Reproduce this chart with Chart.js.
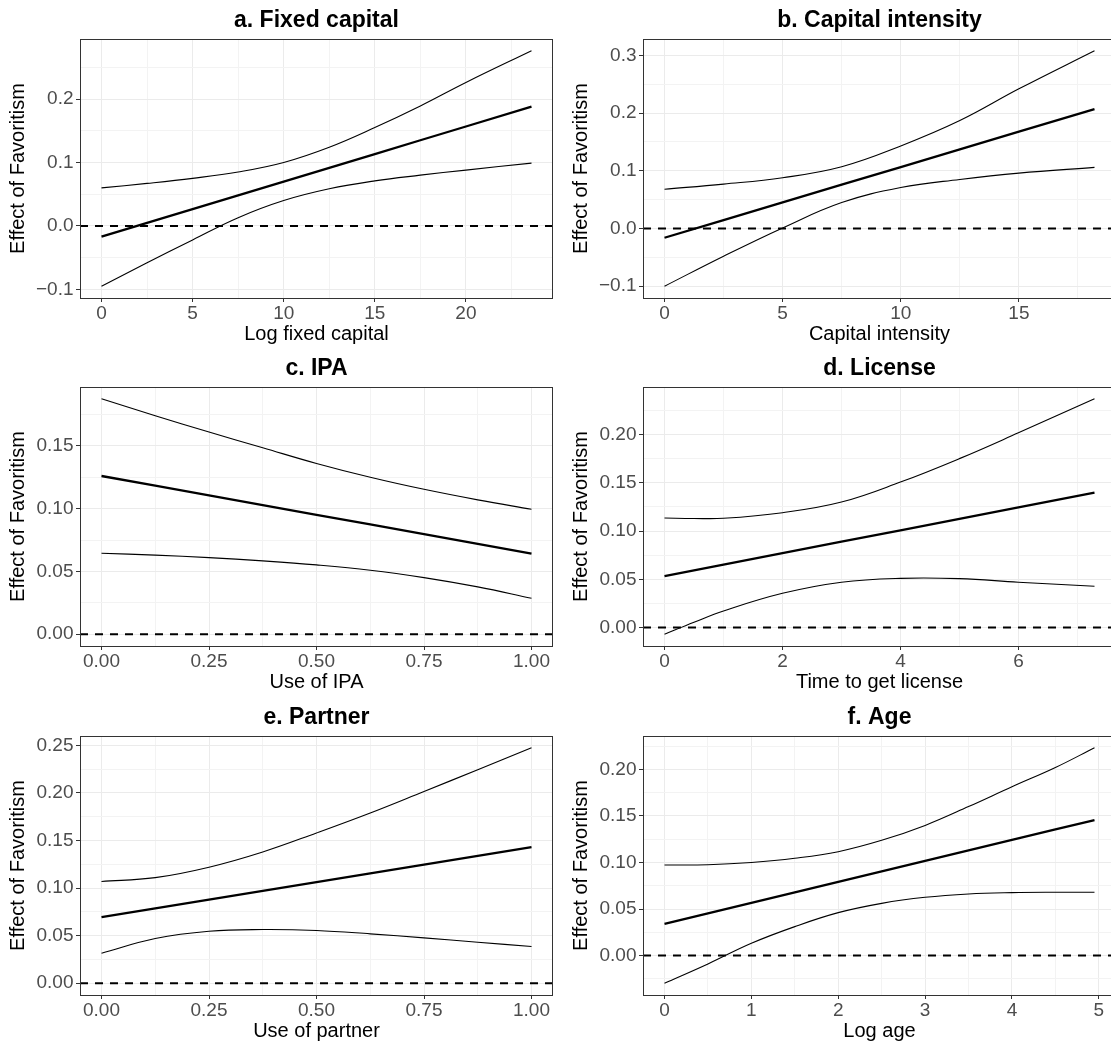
<!DOCTYPE html>
<html>
<head>
<meta charset="utf-8">
<title>Effect of Favoritism</title>
<script src="https://cdn.jsdelivr.net/npm/chart.js@4.4.1/dist/chart.umd.min.js"></script>
<style>
  html, body { margin: 0; padding: 0; background: #ffffff; }
  #fig { position: relative; width: 1111px; height: 1045px; overflow: hidden; background: #ffffff; }
  #fig canvas { position: absolute; }
</style>
</head>
<body>
<div id="fig"></div>
<script>
// ---------------- data: marginal effect of favoritism with 95% band ----------------

// a. Fixed capital
const xFixed   = [0, 2.5, 5, 7.5, 10, 12.5, 15, 17.5, 20, 23.6];
const estFixed = [-0.017, 0.0047, 0.0264, 0.0481, 0.0699, 0.0916, 0.1133, 0.135, 0.1567, 0.188];
const hiFixed  = [0.060, 0.067, 0.075, 0.085, 0.100, 0.124, 0.155, 0.189, 0.226, 0.276];
const loFixed  = [-0.095, -0.058, -0.022, 0.013, 0.040, 0.0585, 0.071, 0.080, 0.088, 0.099];
const xTicksFixed  = [0, 5, 10, 15, 20];
const xLabelsFixed = ['0', '5', '10', '15', '20'];
const yTicksFixed  = [-0.1, 0, 0.1, 0.2];
const yLabelsFixed = ['\u22120.1', '0.0', '0.1', '0.2'];

// b. Capital intensity
const xIntensity   = [0, 2.5, 5, 7.5, 10, 12.5, 15, 18.2];
const estIntensity = [-0.016, 0.0146, 0.0453, 0.0759, 0.1065, 0.1372, 0.1678, 0.207];
const hiIntensity  = [0.068, 0.077, 0.088, 0.107, 0.143, 0.187, 0.242, 0.308];
const loIntensity  = [-0.100, -0.048, 0.001, 0.045, 0.071, 0.085, 0.096, 0.106];
const xTicksIntensity  = [0, 5, 10, 15];
const xLabelsIntensity = ['0', '5', '10', '15'];
const yTicksIntensity  = [-0.1, 0, 0.1, 0.2, 0.3];
const yLabelsIntensity = ['\u22120.1', '0.0', '0.1', '0.2', '0.3'];

// c. IPA
const xIpa   = [0, 0.125, 0.25, 0.375, 0.5, 0.625, 0.75, 0.875, 1];
const estIpa = [0.126, 0.1183, 0.1106, 0.1028, 0.0951, 0.0874, 0.0797, 0.0719, 0.0642];
const hiIpa  = [0.1875, 0.174, 0.161, 0.1485, 0.136, 0.125, 0.1154, 0.107, 0.0995];
const loIpa  = [0.0645, 0.063, 0.061, 0.0584, 0.0552, 0.051, 0.0451, 0.0377, 0.0287];
const xTicksIpa  = [0, 0.25, 0.5, 0.75, 1];
const xLabelsIpa = ['0.00', '0.25', '0.50', '0.75', '1.00'];
const yTicksIpa  = [0, 0.05, 0.1, 0.15];
const yLabelsIpa = ['0.00', '0.05', '0.10', '0.15'];

// d. License
const xLicense   = [0, 0.5, 1, 2, 3, 4, 5, 6, 7.29];
const estLicense = [0.0534, 0.0593, 0.0652, 0.0771, 0.0889, 0.1008, 0.1126, 0.1244, 0.1397];
const hiLicense  = [0.1135, 0.113, 0.1132, 0.119, 0.130, 0.1507, 0.175, 0.2017, 0.237];
const loLicense  = [-0.0069, 0.0055, 0.0172, 0.0355, 0.047, 0.051, 0.0507, 0.047, 0.0428];
const xTicksLicense  = [0, 2, 4, 6];
const xLabelsLicense = ['0', '2', '4', '6'];
const yTicksLicense  = [0, 0.05, 0.1, 0.15, 0.2];
const yLabelsLicense = ['0.00', '0.05', '0.10', '0.15', '0.20'];

// e. Partner
const xPartner   = [0, 0.125, 0.25, 0.375, 0.5, 0.625, 0.75, 0.875, 1];
const estPartner = [0.0694, 0.0786, 0.0878, 0.097, 0.1062, 0.1154, 0.1246, 0.1338, 0.143];
const hiPartner  = [0.107, 0.111, 0.122, 0.138, 0.158, 0.179, 0.2016, 0.2244, 0.2475];
const loPartner  = [0.0316, 0.047, 0.0547, 0.0564, 0.0554, 0.0519, 0.0477, 0.0431, 0.0386];
const xTicksPartner  = [0, 0.25, 0.5, 0.75, 1];
const xLabelsPartner = ['0.00', '0.25', '0.50', '0.75', '1.00'];
const yTicksPartner  = [0, 0.05, 0.1, 0.15, 0.2, 0.25];
const yLabelsPartner = ['0.00', '0.05', '0.10', '0.15', '0.20', '0.25'];

// f. Age
const xAge   = [0, 0.5, 1, 1.5, 2, 2.5, 3, 3.5, 4, 4.5, 4.95];
const estAge = [0.034, 0.0453, 0.0566, 0.0678, 0.0791, 0.0904, 0.1017, 0.1129, 0.1242, 0.1355, 0.1456];
const hiAge  = [0.0973, 0.0976, 0.100, 0.1045, 0.1116, 0.1238, 0.1398, 0.1600, 0.1813, 0.202, 0.2232];
const loAge  = [-0.0297, -0.009, 0.0132, 0.0311, 0.0461, 0.0561, 0.0626, 0.0662, 0.0676, 0.068, 0.068];
const xTicksAge  = [0, 1, 2, 3, 4, 5];
const xLabelsAge = ['0', '1', '2', '3', '4', '5'];
const yTicksAge  = [0, 0.05, 0.1, 0.15, 0.2];
const yLabelsAge = ['0.00', '0.05', '0.10', '0.15', '0.20'];

const panelTitles = ['a. Fixed capital', 'b. Capital intensity', 'c. IPA', 'd. License', 'e. Partner', 'f. Age'];
const xTitles = ['Log fixed capital', 'Capital intensity', 'Use of IPA', 'Time to get license', 'Use of partner', 'Log age'];
const yTitle = 'Effect of Favoritism';

// ---------------- drawing ----------------
const FONT = '"Liberation Sans", Arial, Helvetica, sans-serif';
const MAJOR_GRID = '#EBEBEB';
const MINOR_GRID = '#F3F3F3';
const FRAME = '#333333';
const TICK_TEXT = '#4D4D4D';

const panels = [
  { x: xFixed, est: estFixed, hi: hiFixed, lo: loFixed, xt: xTicksFixed, xl: xLabelsFixed, yt: yTicksFixed, yl: yLabelsFixed },
  { x: xIntensity, est: estIntensity, hi: hiIntensity, lo: loIntensity, xt: xTicksIntensity, xl: xLabelsIntensity, yt: yTicksIntensity, yl: yLabelsIntensity },
  { x: xIpa, est: estIpa, hi: hiIpa, lo: loIpa, xt: xTicksIpa, xl: xLabelsIpa, yt: yTicksIpa, yl: yLabelsIpa },
  { x: xLicense, est: estLicense, hi: hiLicense, lo: loLicense, xt: xTicksLicense, xl: xLabelsLicense, yt: yTicksLicense, yl: yLabelsLicense },
  { x: xPartner, est: estPartner, hi: hiPartner, lo: loPartner, xt: xTicksPartner, xl: xLabelsPartner, yt: yTicksPartner, yl: yLabelsPartner },
  { x: xAge, est: estAge, hi: hiAge, lo: loAge, xt: xTicksAge, xl: xLabelsAge, yt: yTicksAge, yl: yLabelsAge }
];

// 5% padding on each side of the data range
function expandRange(values) {
  const lo = Math.min(...values), hi = Math.max(...values);
  const d = (hi - lo) * 0.05;
  return [lo - d, hi + d];
}

// major breaks plus minor breaks half-way between them
function tickSet(major, min, max) {
  const step = major[1] - major[0];
  const out = major.map(v => ({ value: v, minor: false }));
  for (let i = -1; i < major.length; i++) {
    const m = major[0] + (i + 0.5) * step;
    if (m > min && m < max) out.push({ value: m, minor: true });
  }
  return out.sort((a, b) => a.value - b.value);
}

function labelFor(value, ticks, labels) {
  for (let i = 0; i < ticks.length; i++) {
    if (Math.abs(ticks[i] - value) < 1e-9) return labels[i];
  }
  return '';
}

const gridStyle = {
  color: c => (c.tick && c.tick.minor ? MINOR_GRID : MAJOR_GRID),
  lineWidth: 1,
  tickLength: 4,
  tickWidth: 1,
  tickColor: c => (c.tick && c.tick.minor ? 'rgba(0,0,0,0)' : FRAME)
};

// dashed reference line at zero across the whole panel
const zeroLine = {
  id: 'zeroLine',
  beforeDatasetsDraw(chart) {
    const { ctx, chartArea: a, scales } = chart;
    const py = scales.y.getPixelForValue(0);
    ctx.save();
    ctx.beginPath();
    ctx.rect(a.left, a.top, a.width, a.height);
    ctx.clip();
    ctx.setLineDash([8, 7]);
    ctx.lineWidth = 2;
    ctx.strokeStyle = '#000000';
    ctx.beginPath();
    ctx.moveTo(a.left, py);
    ctx.lineTo(a.right, py);
    ctx.stroke();
    ctx.restore();
  }
};

// frame around the plotting area
const panelBorder = {
  id: 'panelBorder',
  afterDatasetsDraw(chart) {
    const { ctx, chartArea: a } = chart;
    const l = Math.round(a.left), t = Math.round(a.top);
    const r = Math.round(a.right), b = Math.round(a.bottom);
    ctx.save();
    ctx.strokeStyle = FRAME;
    ctx.lineWidth = 1;
    ctx.strokeRect(l + 0.5, t + 0.5, r - l - 1, b - t);
    ctx.restore();
  }
};

const CELL_W = 563, CELL_H = 348;
const rowTops = [0, 348, 697];
const fig = document.getElementById('fig');

panels.forEach((p, i) => {
  const col = i % 2, row = Math.floor(i / 2);
  const canvas = document.createElement('canvas');
  canvas.width = CELL_W;
  canvas.height = CELL_H;
  canvas.style.left = (col * CELL_W) + 'px';
  canvas.style.top = rowTops[row] + 'px';
  canvas.style.width = CELL_W + 'px';
  canvas.style.height = CELL_H + 'px';
  fig.appendChild(canvas);

  const [xMin, xMax] = expandRange(p.x);
  const [yMin, yMax] = expandRange(p.est.concat(p.hi, p.lo, [0]));
  const xTickObjs = tickSet(p.xt, xMin, xMax);
  const yTickObjs = tickSet(p.yt, yMin, yMax);

  const pts = arr => p.x.map((xv, k) => ({ x: xv, y: arr[k] }));

  new Chart(canvas, {
    type: 'line',
    data: {
      datasets: [
        { label: 'upper', data: pts(p.hi), borderColor: '#000000', borderWidth: 1.1, pointRadius: 0, tension: 0.4, fill: false },
        { label: 'lower', data: pts(p.lo), borderColor: '#000000', borderWidth: 1.1, pointRadius: 0, tension: 0.4, fill: false },
        { label: 'estimate', data: pts(p.est), borderColor: '#000000', borderWidth: 2.3, pointRadius: 0, tension: 0, fill: false }
      ]
    },
    options: {
      responsive: false,
      animation: false,
      devicePixelRatio: 1,
      layout: { padding: { left: 0, top: 0, right: 10, bottom: 0 } },
      plugins: {
        legend: { display: false },
        tooltip: { enabled: false },
        title: {
          display: true,
          text: panelTitles[i],
          fullSize: false,
          color: '#000000',
          font: { family: FONT, size: 23, weight: 'bold' },
          padding: { top: 7.3, bottom: 4.1 }
        }
      },
      scales: {
        x: {
          type: 'linear',
          min: xMin,
          max: xMax,
          bounds: 'data',
          afterBuildTicks: s => { s.ticks = xTickObjs.map(t => ({ value: t.value, minor: t.minor })); },
          afterFit: s => { s.height = 50; },
          ticks: {
            autoSkip: false, maxRotation: 0, minRotation: 0, padding: 0,
            color: TICK_TEXT,
            font: { family: FONT, size: 19 },
            callback: v => labelFor(v, p.xt, p.xl)
          },
          grid: gridStyle,
          border: { display: false },
          title: {
            display: true, text: xTitles[i], color: '#000000',
            font: { family: FONT, size: 20 },
            padding: { top: 0, bottom: 2 }
          }
        },
        y: {
          type: 'linear',
          min: yMin,
          max: yMax,
          bounds: 'data',
          afterBuildTicks: s => { s.ticks = yTickObjs.map(t => ({ value: t.value, minor: t.minor })); },
          afterFit: s => { s.width = 80; },
          ticks: {
            autoSkip: false, padding: 2.5,
            color: TICK_TEXT,
            font: { family: FONT, size: 19 },
            callback: v => labelFor(v, p.yt, p.yl)
          },
          grid: gridStyle,
          border: { display: false },
          title: {
            display: true, text: yTitle, color: '#000000',
            font: { family: FONT, size: 20 },
            padding: { top: 6, bottom: 0 }
          }
        }
      }
    },
    plugins: [zeroLine, panelBorder]
  });
});
</script>
</body>
</html>
